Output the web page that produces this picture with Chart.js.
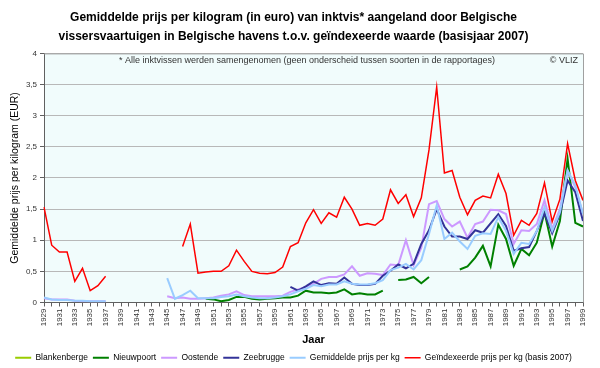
<!DOCTYPE html>
<html>
<head>
<meta charset="utf-8">
<script src="https://cdn.jsdelivr.net/npm/chart.js@4.4.1/dist/chart.umd.min.js"></script>
<style>
  html, body { margin: 0; padding: 0; background: #fff; }
</style>
</head>
<body>
<canvas id="chart" width="600" height="368"></canvas>
<script>
const years = [
    '1929', '1930', '1931', '1932', '1933', '1934', '1935', '1936', '1937', '1938',
    '1939', '1940', '1941', '1942', '1943', '1944', '1945', '1946', '1947', '1948',
    '1949', '1950', '1951', '1952', '1953', '1954', '1955', '1956', '1957', '1958',
    '1959', '1960', '1961', '1962', '1963', '1964', '1965', '1966', '1967', '1968',
    '1969', '1970', '1971', '1972', '1973', '1974', '1975', '1976', '1977', '1978',
    '1979', '1980', '1981', '1982', '1983', '1984', '1985', '1986', '1987', '1988',
    '1989', '1990', '1991', '1992', '1993', '1994', '1995', '1996', '1997', '1998',
    '1999'
];

// no values for Blankenberge in the picture
const blankenberge = new Array(years.length).fill(null);

const nieuwpoort = [
    null, null, null, null, null, null, null, null, null, null,
    null, null, null, null, null, null, null, null, null, null,
    null, 0.06, 0.05, 0.02, 0.04, 0.09, 0.09, 0.06, 0.05, 0.06,
    0.07, 0.08, 0.08, 0.11, 0.19, 0.16, 0.16, 0.15, 0.16, 0.21,
    0.13, 0.15, 0.13, 0.13, 0.19, null, 0.36, 0.37, 0.41, 0.31,
    0.41, null, null, null, 0.53, 0.58, 0.72, 0.91, 0.58, 1.25,
    1.02, 0.59, 0.86, 0.76, 0.96, 1.45, 0.90, 1.31, 2.31, 1.28,
    1.22
];

const oostende = [
    0.07, 0.05, 0.05, 0.05, 0.03, 0.02, 0.02, 0.02, 0.02, null,
    null, null, null, null, null, null, 0.10, 0.07, 0.08, 0.06,
    0.06, 0.07, 0.08, 0.11, 0.13, 0.18, 0.12, 0.10, 0.10, 0.10,
    0.10, 0.11, 0.17, 0.21, 0.25, 0.30, 0.38, 0.41, 0.41, 0.45,
    0.58, 0.43, 0.47, 0.46, 0.44, 0.61, 0.60, 1.00, 0.60, 0.88,
    1.58, 1.63, 1.34, 1.22, 1.30, 1.04, 1.26, 1.30, 1.49, 1.48,
    1.42, 0.94, 1.16, 1.15, 1.26, 1.64, 1.18, 1.50, 2.12, 1.85,
    1.42
];

const zeebrugge = [
    null, null, null, null, null, null, null, null, null, null,
    null, null, null, null, null, null, null, null, null, null,
    null, null, null, null, null, null, null, null, null, null,
    null, null, 0.25, 0.19, 0.26, 0.34, 0.28, 0.31, 0.30, 0.40,
    0.30, 0.28, 0.28, 0.30, 0.43, 0.51, 0.61, 0.55, 0.62, 0.94,
    1.16, 1.50, 1.22, 1.06, 1.06, 1.02, 1.16, 1.12, 1.27, 1.42,
    1.23, 0.83, 0.87, 0.89, 1.15, 1.43, 1.11, 1.42, 1.96, 1.77,
    1.31
];

const gemiddeld = [
    0.08, 0.05, 0.04, 0.04, 0.03, 0.03, 0.02, 0.02, 0.02, null,
    null, null, null, null, null, null, 0.39, 0.06, 0.12, 0.19,
    0.07, 0.07, 0.07, 0.09, 0.10, 0.13, 0.10, 0.08, 0.07, 0.07,
    0.08, 0.10, 0.13, 0.18, 0.22, 0.28, 0.26, 0.29, 0.29, 0.34,
    0.30, 0.29, 0.29, 0.31, 0.36, 0.52, 0.56, 0.62, 0.53, 0.68,
    1.10, 1.56, 1.02, 1.12, 0.98, 0.86, 1.07, 1.11, 1.10, 1.37,
    1.15, 0.78, 0.96, 0.94, 1.15, 1.53, 1.15, 1.45, 2.12, 1.88,
    1.42
];

const geindexeerd = [
    1.53, 0.92, 0.81, 0.81, 0.34, 0.55, 0.19, 0.27, 0.42, null,
    null, null, null, null, null, null, null, null, 0.90, 1.26,
    0.47, 0.49, 0.50, 0.50, 0.59, 0.84, 0.66, 0.50, 0.47, 0.46,
    0.48, 0.57, 0.90, 0.96, 1.28, 1.49, 1.27, 1.44, 1.37, 1.69,
    1.50, 1.24, 1.27, 1.24, 1.34, 1.81, 1.59, 1.73, 1.38, 1.68,
    2.45, 3.46, 2.08, 2.12, 1.69, 1.41, 1.64, 1.71, 1.68, 2.06,
    1.75, 1.08, 1.32, 1.24, 1.43, 1.92, 1.30, 1.66, 2.55, 1.96,
    1.64
];

const yTicks = [0, 0.5, 1, 1.5, 2, 2.5, 3, 3.5, 4];

const fontName = '"Liberation Sans", Arial, sans-serif';
Chart.defaults.font.family = fontName;

// plot background, frame and the two notes inside the plot
const plotDecor = {
    id: 'plotDecor',
    beforeDraw(chart) {
        let a = chart.chartArea;
        let ctx = chart.ctx;
        ctx.save();
        ctx.fillStyle = '#f1fcfc';
        ctx.fillRect(a.left, a.top, a.right - a.left, a.bottom - a.top);
        ctx.restore();
    },
    afterDraw(chart) {
        let a = chart.chartArea;
        let ctx = chart.ctx;
        ctx.save();
        ctx.strokeStyle = '#a0a0a0';
        ctx.lineWidth = 1;
        ctx.beginPath();
        ctx.moveTo(a.left, a.top + 0.5);
        ctx.lineTo(a.right + 0.5, a.top + 0.5);
        ctx.lineTo(a.right + 0.5, a.bottom);
        ctx.stroke();
        ctx.fillStyle = '#333';
        ctx.font = '9px ' + fontName;
        ctx.textBaseline = 'middle';
        ctx.textAlign = 'center';
        ctx.fillText('* Alle inktvissen werden samengenomen (geen onderscheid tussen soorten in de rapportages)', 307, a.top + 7);
        ctx.textAlign = 'right';
        ctx.fillText('\u00A9 VLIZ', a.right - 5, a.top + 7);
        ctx.restore();
    }
};

function line(label, data, color, width, order) {
    return {
        label: label,
        data: data,
        borderColor: color,
        backgroundColor: color,
        borderWidth: width,
        pointRadius: 0,
        pointStyle: 'line',
        tension: 0,
        spanGaps: false,
        order: order
    };
}

var ctx = document.getElementById('chart').getContext('2d');
var mychart = new Chart(ctx, {
    type: 'line',
    data: {
        labels: years,
        datasets: [
            line('Blankenberge', blankenberge, '#99cc00', 2, 6),
            line('Nieuwpoort', nieuwpoort, '#008000', 2, 5),
            line('Oostende', oostende, '#cc99ff', 2, 4),
            line('Zeebrugge', zeebrugge, '#333399', 2, 3),
            line('Gemiddelde prijs per kg', gemiddeld, '#99ccff', 2, 2),
            line('Geïndexeerde prijs per kg (basis 2007)', geindexeerd, '#ff0000', 1.5, 1)
        ]
    },
    options: {
        responsive: false,
        animation: false,
        layout: { padding: { left: 4, right: 17, top: 0, bottom: -4 } },
        plugins: {
            title: {
                display: true,
                text: [
                    'Gemiddelde prijs per kilogram (in euro) van inktvis* aangeland door Belgische',
                    'vissersvaartuigen in Belgische havens t.o.v. geïndexeerde waarde (basisjaar 2007)'
                ],
                color: '#000',
                font: { size: 12, weight: 'bold', lineHeight: 1.6 },
                padding: { top: 8, bottom: 7 }
            },
            legend: {
                position: 'bottom',
                labels: {
                    usePointStyle: true,
                    pointStyleWidth: 16,
                    boxHeight: 6,
                    padding: 5,
                    color: '#000',
                    font: { size: 8.5 },
                    sort: (a, b) => a.datasetIndex - b.datasetIndex
                }
            },
            tooltip: { enabled: false }
        },
        scales: {
            x: {
                offset: false,
                grid: { drawOnChartArea: false, tickLength: 4, color: '#606060' },
                border: { color: '#606060' },
                ticks: {
                    autoSkip: false,
                    minRotation: 90,
                    maxRotation: 90,
                    padding: 2,
                    color: '#333',
                    font: { size: 8 },
                    callback: function (value, index) {
                        return index % 2 === 0 ? years[index] : '';
                    }
                },
                title: {
                    display: true,
                    text: 'Jaar',
                    color: '#000',
                    font: { size: 11, weight: 'bold' },
                    padding: { top: 0, bottom: 2 }
                },
                afterFit: function (scale) { scale.height = 46; }
            },
            y: {
                min: 0,
                max: 4,
                afterBuildTicks: function (scale) {
                    scale.ticks = yTicks.map(v => ({ value: v }));
                },
                grid: { color: '#b8b8b8', tickColor: '#606060', tickLength: 4 },
                border: { color: '#606060' },
                ticks: {
                    padding: 3,
                    color: '#333',
                    font: { size: 8 },
                    callback: v => String(v).replace('.', ',')
                },
                title: {
                    display: true,
                    text: 'Gemiddelde prijs per kilogram (EUR)',
                    color: '#000',
                    font: { size: 10.5 },
                    padding: { top: 5, bottom: 0 }
                },
                afterFit: function (scale) { scale.width = 40; }
            }
        }
    },
    plugins: [plotDecor]
});
</script>
</body>
</html>
